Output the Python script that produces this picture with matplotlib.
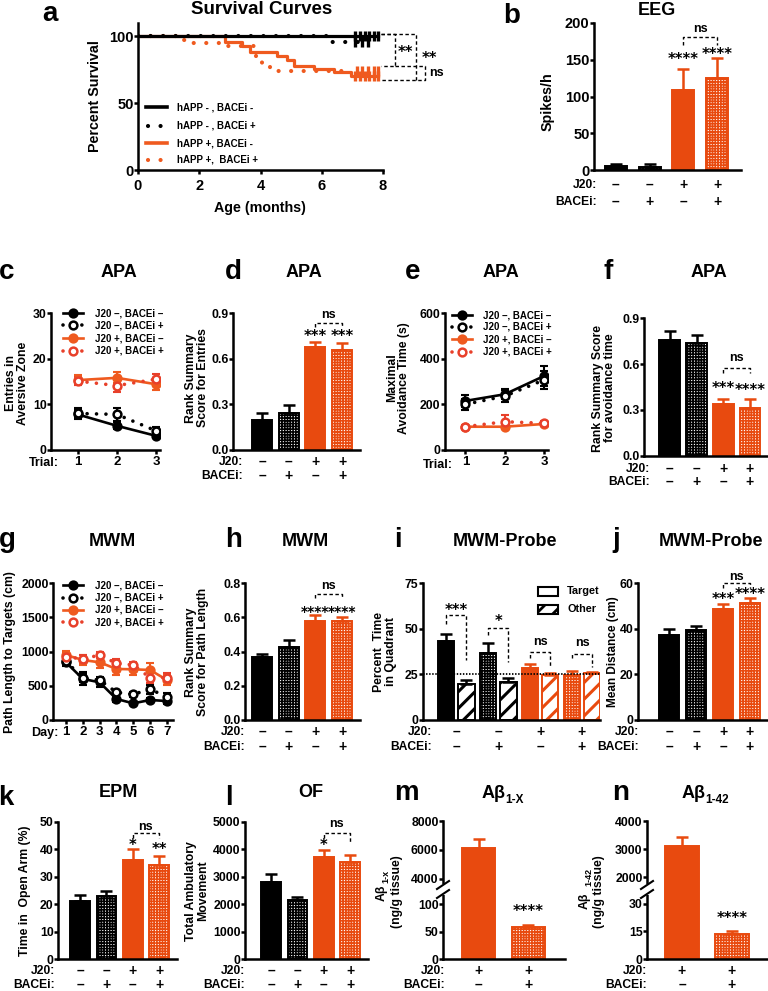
import numpy as np
import matplotlib
matplotlib.use('Agg')
import matplotlib.pyplot as plt
from matplotlib.patches import Rectangle
from matplotlib.lines import Line2D

plt.rcParams['font.family'] = ['Liberation Sans', 'DejaVu Sans']
plt.rcParams['font.weight'] = 'bold'
plt.rcParams['axes.labelweight'] = 'bold'
plt.rcParams['hatch.linewidth'] = 1.1

# ---------------- DATA ----------------
J20_4 = ['–', '–', '+', '+']
BACE_4 = ['–', '+', '–', '+']
J20_2 = ['+', '+']
BACE_2 = ['–', '+']

# a: Kaplan-Meier survival (step change points, last point = end of follow-up)
km_ctrl_t = [0, 7.85]
km_ctrl_s = [100, 100]
km_ctrlB_t = [0, 6.25, 7.55]
km_ctrlB_s = [100, 95.5, 95.5]
km_j20_t = [0, 2.85, 3.4, 3.65, 4.55, 4.85, 5.1, 5.75, 6.4, 6.95, 7.85]
km_j20_s = [100, 96, 93, 88, 85, 82, 78, 75.5, 73, 70, 70]
km_j20B_t = [0, 1.4, 1.65, 2.7, 3.85, 4.05, 4.3, 4.55, 7.0]
km_j20B_s = [100, 97.5, 95, 92.5, 83, 78.5, 76, 74, 74]
cens_ctrl = [7.1, 7.25, 7.4, 7.55, 7.7, 7.85]
cens_ctrlB = [7.1, 7.3, 7.5]
cens_j20 = [7.1, 7.25, 7.4, 7.55, 7.7, 7.85]
cens_j20B = [7.15, 7.3, 7.5, 7.7, 7.85]
km_labels = ['hAPP - , BACEi -', 'hAPP - , BACEi +', 'hAPP +, BACEi -', 'hAPP +,  BACEi +']

# b: EEG
eeg_vals = [5, 4.5, 109, 125]
eeg_err = [3, 3, 28, 27]

# c, e: APA line data (trials)
trials = [1, 2, 3]
c_nv = [7.8, 5.3, 3.1];   c_nv_e = [1.0, 0.8, 0.5]
c_nb = [8.0, 7.8, 4.2];   c_nb_e = [1.1, 1.5, 0.8]
c_pv = [15.3, 15.8, 14.4]; c_pv_e = [1.1, 1.2, 1.3]
c_pb = [15.1, 14.1, 15.5]; c_pb_e = [0.9, 1.5, 1.2]
e_nv = [215, 244, 324];   e_nv_e = [28, 22, 42]
e_nb = [200, 236, 307];   e_nb_e = [25, 25, 40]
e_pv = [102, 102, 114];   e_pv_e = [6, 8, 10]
e_pb = [102, 124, 117];   e_pb_e = [6, 28, 10]
line_labels = ['J20 –, BACEi –', 'J20 –, BACEi +', 'J20 +, BACEi –', 'J20 +, BACEi +']

# d, f: APA rank summary
d_vals = [0.195, 0.24, 0.675, 0.655]; d_err = [0.05, 0.055, 0.035, 0.045]
f_vals = [0.758, 0.737, 0.338, 0.316]; f_err = [0.055, 0.052, 0.032, 0.054]

# g: MWM path length (days)
days = [1, 2, 3, 4, 5, 6, 7]
g_nv = [842, 600, 550, 307, 243, 292, 277]; g_nv_e = [60, 95, 70, 40, 20, 30, 50]
g_nb = [861, 608, 584, 404, 375, 448, 340]; g_nb_e = [50, 60, 50, 40, 40, 70, 50]
g_pv = [949, 876, 842, 745, 740, 730, 584]; g_pv_e = [60, 70, 90, 90, 80, 100, 80]
g_pb = [925, 890, 949, 827, 803, 618, 618]; g_pb_e = [50, 60, 50, 60, 50, 80, 70]

# h: MWM rank summary
h_vals = [0.367, 0.427, 0.577, 0.577]; h_err = [0.02, 0.04, 0.035, 0.025]
# i: probe, target vs other quadrant
i_target = [43.1, 36.8, 28.2, 24.6]; i_target_e = [4.2, 5.1, 2.2, 2.2]
i_other = [19.5, 20.9, 24.9, 25.5];  i_other_e = [2.3, 2.2, 0.6, 0.9]
i_chance = 25
# j: mean distance
j_vals = [37.4, 39.6, 48.6, 51.3]; j_err = [2.4, 1.6, 2.2, 2.2]
# k: EPM
k_vals = [21.1, 23.1, 36.0, 34.2]; k_err = [2.2, 1.9, 4.3, 3.3]
# l: OF
l_vals = [2815, 2148, 3725, 3544]; l_err = [280, 122, 243, 242]
# m, n: Abeta
m_vals = [6160, 59]; m_err = [575, 3]
n_vals = [3114, 13.6]; n_err = [323, 1.4]

# ---------------- STYLE ----------------
W, H = 768, 991
fig = plt.figure(figsize=(W / 100, H / 100), dpi=100)
ov = fig.add_axes([0, 0, 1, 1], zorder=10)
ov.set_xlim(0, W); ov.set_ylim(H, 0); ov.axis('off'); ov.set_autoscale_on(False)

BLK = '#000000'
ORG = '#E84A0F'
ORGL = '#EF5A1F'
RED = '#E8402A'
LW = 1.8


def mkax(l, t, r, b, tfs=8.8):
    ax = fig.add_axes([l / W, 1 - b / H, (r - l) / W, (b - t) / H])
    ax.patch.set_alpha(0)
    for s in ('top', 'right'):
        ax.spines[s].set_visible(False)
    for s in ('left', 'bottom'):
        ax.spines[s].set_linewidth(LW)
    ax.tick_params(width=LW, length=2.6, labelsize=tfs, pad=0.6)
    return ax


def T(x, y, s, fs, ha='center', va='baseline', **kw):
    ov.text(x, y, s, fontsize=fs, ha=ha, va=va, fontweight='bold', **kw)


def hl(patch, w):
    if hasattr(patch, 'set_hatch_linewidth'):
        patch.set_hatch_linewidth(w)


def draw_bar(ax, x, v, e, kind, width):
    col = BLK if kind[1] == 'k' else ORG
    if kind[0] == 's':
        p = ax.bar(x, v, width, color=col, edgecolor=col, lw=1.4, zorder=2)
    elif kind[0] == 'c':
        p = ax.bar(x, v, width, facecolor='white', edgecolor=col, hatch='++++++', lw=1.4, zorder=2)
        for r in p:
            hl(r, 1.15)
    else:
        p = ax.bar(x, v, width, facecolor='white', edgecolor=col, hatch='//', lw=1.4, zorder=2)
        for r in p:
            hl(r, 2.2)
    ax.errorbar([x], [v], yerr=[[0], [e]], fmt='none', ecolor=col, elinewidth=LW,
                capsize=4, capthick=LW, zorder=3)


KINDS4 = ['sk', 'ck', 'so', 'co']


def rows(ax, b, xs, j20, bace, d1, d2, xr, fs=8.7, sfs=10):
    for x, a, c in zip(xs, j20, bace):
        ax.annotate(a, xy=(x, 0), xycoords=('data', 'axes fraction'), xytext=(0, -d1 * 0.72),
                    textcoords='offset points', ha='center', va='center', fontsize=sfs,
                    fontweight='bold', annotation_clip=False)
        ax.annotate(c, xy=(x, 0), xycoords=('data', 'axes fraction'), xytext=(0, -d2 * 0.72),
                    textcoords='offset points', ha='center', va='center', fontsize=sfs,
                    fontweight='bold', annotation_clip=False)
    T(xr, b + d1, 'J20:', fs, ha='right', va='center')
    T(xr, b + d2, 'BACEi:', fs, ha='right', va='center')


def stars(ax, x, y, s, fs=10.5):
    ax.annotate(s, xy=(x, y), xytext=(0, -0.53 * fs), textcoords='offset points', ha='center',
                va='baseline', fontsize=fs, fontfamily='DejaVu Sans', fontweight='bold',
                annotation_clip=False)


def nstext(ax, x, y, s='ns', fs=9):
    ax.annotate(s, xy=(x, y), xytext=(0, -0.26 * fs), textcoords='offset points', ha='center',
                va='baseline', fontsize=fs, fontweight='bold', annotation_clip=False)


def brk(ax, x1, x2, ytop, yl, yr, lw=1.0):
    ax.plot([x1, x1, x2, x2], [yl, ytop, ytop, yr], color='k', lw=lw, ls=(0, (2.5, 1.8)),
            clip_on=False, zorder=5)


def lineplot(ax, x, y, e, col, filled, dotted):
    ax.errorbar(x, y, yerr=e, color=col, ls='none', elinewidth=1.5, capsize=3, capthick=1.5, zorder=3)
    if dotted:
        ax.plot(x, y, color=col, lw=2.6, ls=(0, (0.01, 2.6)), dash_capstyle='round', zorder=2)
    else:
        ax.plot(x, y, color=col, lw=1.9, zorder=2)
    ax.plot(x, y, ls='none', marker='o', ms=5.6, mfc=col if filled else 'white', mec=col, mew=1.8, zorder=4)


def line_legend(x0, x1, xt, ys, fs=7):
    specs = [(BLK, True, False), (BLK, False, True), (ORGL, True, False), (RED, False, True)]
    for y, (col, filled, dotted), lab in zip(ys, specs, line_labels):
        if dotted:
            ov.add_line(Line2D([x0, x1], [y, y], color=col, lw=2.6, ls=(0, (0.01, 2.6)),
                               dash_capstyle='round'))
        else:
            ov.add_line(Line2D([x0, x1], [y, y], color=col, lw=1.9))
        ov.plot([(x0 + x1) / 2], [y], marker='o', ms=5.6, mfc=col if filled else 'white', mec=col, mew=1.8)
        T(xt, y, lab, fs, ha='left', va='center')


def ylab(x, y, s, fs=8.8):
    T(x, y, s, fs, ha='center', va='center', rotation=90, multialignment='center', linespacing=1.05)


# ---------------- PANEL a ----------------
axa = mkax(138, 23, 383, 170, tfs=10.5)
DOT = (0, (0.01, 3.0))
axa.step(km_j20B_t, km_j20B_s, where='post', color=ORGL, lw=3.0, ls=DOT, dash_capstyle='round')
axa.step(km_j20_t, km_j20_s, where='post', color=ORGL, lw=2.3)
axa.step(km_ctrlB_t, km_ctrlB_s, where='post', color=BLK, lw=3.0, ls=DOT, dash_capstyle='round')
axa.step(km_ctrl_t, km_ctrl_s, where='post', color=BLK, lw=2.3)


def level_at(t, s, x):
    idx = np.searchsorted(np.array(t), np.array(x), side='right') - 1
    return np.array(s)[idx]


for ct, tt, ss, col in [(cens_ctrl, km_ctrl_t, km_ctrl_s, BLK), (cens_ctrlB, km_ctrlB_t, km_ctrlB_s, BLK),
                        (cens_j20, km_j20_t, km_j20_s, ORGL), (cens_j20B, km_j20B_t, km_j20B_s, ORGL)]:
    axa.plot(ct, level_at(tt, ss, ct), ls='none', marker='|', ms=7, mew=2.4, color=col, clip_on=False)
axa.set_xlim(0, 8); axa.set_ylim(0, 110)
axa.set_xticks([0, 2, 4, 6, 8]); axa.set_yticks([0, 50, 100])
axa.tick_params(axis='x', pad=4)
brk(axa, 7.95, 9.09, 101.5, 101.5, 67.7)
axa.plot([7.95, 8.38, 8.38, 7.95], [101.5, 101.5, 77.6, 77.6], color='k', lw=1.0, ls=(0, (2.5, 1.8)), clip_on=False)
axa.plot([8.38, 9.36, 9.36, 7.95], [77.6, 77.6, 67.7, 67.7], color='k', lw=1.0, ls=(0, (2.5, 1.8)), clip_on=False)
stars(axa, 8.72, 90, '**', 10.5)
stars(axa, 9.5, 86, '**', 10.5)
nstext(axa, 9.75, 72.7, 'ns', 9)
T(262, 14, 'Survival Curves', 13.5)
T(50, 21, 'a', 20)
ylab(95, 96, 'Percent Survival', 10.3)
T(260, 208, 'Age (months)', 10.3, va='center')
# legend a
for y, col, dotted, lab in zip([107, 126, 143, 160], [BLK, BLK, ORGL, ORGL], [False, True, False, True], km_labels):
    if dotted:
        ov.add_line(Line2D([148, 166], [y, y], color=col, lw=3.0, ls=(0, (0.01, 3.0)), dash_capstyle='round'))
    else:
        ov.add_line(Line2D([146, 167], [y, y], color=col, lw=2.6))
    T(177, y, lab, 7, ha='left', va='center')

# ---------------- PANEL b ----------------
axb = mkax(594, 23, 741, 170, tfs=10.5)
xs4 = np.arange(4)
for x, v, e, k in zip(xs4, eeg_vals, eeg_err, KINDS4):
    draw_bar(axb, x, v, e, k, 0.65)
axb.set_xlim(-0.65, 3.71); axb.set_ylim(0, 200)
axb.set_xticks([]); axb.set_yticks([0, 50, 100, 150, 200])
stars(axb, 2, 155, '****'); stars(axb, 3, 162, '****')
brk(axb, 2, 3, 181, 170.5, 170.5); nstext(axb, 2.5, 192)
rows(axb, 170, xs4, J20_4, BACE_4, 15, 32, 597)
T(657, 15, 'EEG', 13)
T(512, 23, 'b', 20)
ylab(548, 102, 'Spikes/h', 10.3)

# ---------------- PANEL c ----------------
axc = mkax(51, 313, 160, 450)
lineplot(axc, trials, c_nv, c_nv_e, BLK, True, False)
lineplot(axc, trials, c_nb, c_nb_e, BLK, False, True)
lineplot(axc, trials, c_pv, c_pv_e, ORGL, True, False)
lineplot(axc, trials, c_pb, c_pb_e, RED, False, True)
axc.set_xlim(0.32, 3.1); axc.set_ylim(0, 30)
axc.set_xticks(trials); axc.set_yticks([0, 10, 20, 30])
axc.tick_params(axis='x', labelsize=9.5, pad=2)
T(59, 463, 'Trial:', 9, ha='right', va='center')
line_legend(63, 83, 95, [313.3, 325, 338.3, 350.7])
T(119, 277, 'APA', 13)
T(7, 279, 'c', 20)
ylab(17, 383, 'Entries in\nAversive Zone')

# ---------------- PANEL d ----------------
axd = mkax(233, 313, 360, 450)
for x, v, e, k in zip(xs4, d_vals, d_err, KINDS4):
    draw_bar(axd, x, v, e, k, 0.75)
axd.set_xlim(-1.09, 3.67); axd.set_ylim(0, 0.9)
axd.set_xticks([]); axd.set_yticks([0, 0.3, 0.6, 0.9])
axd.set_yticklabels(['0.0', '0.3', '0.6', '0.9'])
stars(axd, 2, 0.769, '***'); stars(axd, 3, 0.769, '***')
brk(axd, 2, 3, 0.834, 0.81, 0.81); nstext(axd, 2.5, 0.889)
rows(axd, 450, xs4, J20_4, BACE_4, 12, 26, 243)
T(304, 277, 'APA', 13)
T(233, 279, 'd', 20)
ylab(197, 378, 'Rank Summary\nScore for Entries')

# ---------------- PANEL e ----------------
axe = mkax(445, 313, 548, 450)
lineplot(axe, trials, e_nv, e_nv_e, BLK, True, False)
lineplot(axe, trials, e_nb, e_nb_e, BLK, False, True)
lineplot(axe, trials, e_pv, e_pv_e, ORGL, True, False)
lineplot(axe, trials, e_pb, e_pb_e, RED, False, True)
axe.set_xlim(0.48, 3.1); axe.set_ylim(0, 600)
axe.set_xticks(trials); axe.set_yticks([0, 200, 400, 600])
axe.tick_params(axis='x', labelsize=9.5, pad=2)
T(453, 465, 'Trial:', 9, ha='right', va='center')
line_legend(452, 472, 483, [315, 326.7, 339.3, 351.7])
T(501, 277, 'APA', 13)
T(413, 279, 'e', 20)
ylab(398, 378, 'Maximal\nAvoidance Time (s)')

# ---------------- PANEL f ----------------
axf = mkax(644, 318, 767, 456)
for x, v, e, k in zip(xs4, f_vals, f_err, KINDS4):
    draw_bar(axf, x, v, e, k, 0.78)
axf.set_xlim(-0.97, 3.64); axf.set_ylim(0, 0.9)
axf.set_xticks([]); axf.set_yticks([0, 0.3, 0.6, 0.9])
axf.set_yticklabels(['0.0', '0.3', '0.6', '0.9'])
stars(axf, 2, 0.464, '***'); stars(axf, 3, 0.449, '****')
brk(axf, 2, 3, 0.577, 0.54, 0.54); nstext(axf, 2.5, 0.643)
rows(axf, 456, xs4, J20_4, BACE_4, 12.5, 26, 650)
T(709, 277, 'APA', 13)
T(608, 279, 'f', 20)
ylab(604, 388, 'Rank Summary Score\nfor avoidance time')

# ---------------- PANEL g ----------------
axg = mkax(53, 583, 173, 720)
lineplot(axg, days, g_nv, g_nv_e, BLK, True, False)
lineplot(axg, days, g_nb, g_nb_e, BLK, False, True)
lineplot(axg, days, g_pv, g_pv_e, ORGL, True, False)
lineplot(axg, days, g_pb, g_pb_e, RED, False, True)
axg.set_xlim(0.23, 7.36); axg.set_ylim(0, 2000)
axg.set_xticks(days); axg.set_yticks([0, 500, 1000, 1500, 2000])
axg.tick_params(axis='x', labelsize=9.5, pad=1.5)
T(58, 733, 'Day:', 9, ha='right', va='center')
line_legend(63, 83, 95, [585, 597.7, 610, 622.3])
T(112, 546, 'MWM', 13)
T(7, 547, 'g', 20)
ylab(10, 652, 'Path Length to Targets (cm)')

# ---------------- PANEL h ----------------
axh = mkax(245, 583, 360, 720)
for x, v, e, k in zip(xs4, h_vals, h_err, KINDS4):
    draw_bar(axh, x, v, e, k, 0.75)
axh.set_xlim(-0.64, 3.67); axh.set_ylim(0, 0.8)
axh.set_xticks([]); axh.set_yticks([0, 0.2, 0.4, 0.6, 0.8])
axh.set_yticklabels(['0.0', '0.2', '0.4', '0.6', '0.8'])
stars(axh, 2, 0.65, '****', 10); stars(axh, 3, 0.65, '****', 10)
brk(axh, 2, 3, 0.738, 0.715, 0.715); nstext(axh, 2.5, 0.786)
rows(axh, 720, xs4, J20_4, BACE_4, 12, 27, 245)
T(305, 546, 'MWM', 13)
T(234, 547, 'h', 20)
ylab(197, 652, 'Rank Summary\nScore for Path Length')

# ---------------- PANEL i ----------------
axi = mkax(423, 583, 600, 720)
t_kinds = ['sk', 'ck', 'so', 'co']
o_kinds = ['tk', 'tk', 'to', 'to']
for p in range(4):
    draw_bar(axi, p - 0.24, i_target[p], i_target_e[p], t_kinds[p], 0.4)
    draw_bar(axi, p + 0.24, i_other[p], i_other_e[p], o_kinds[p], 0.4)
axi.axhline(i_chance, color='k', lw=1.3, ls=(0, (0.8, 0.9)), zorder=4)
axi.set_xlim(-0.79, 3.43); axi.set_ylim(0, 75)
axi.set_xticks([]); axi.set_yticks([0, 25, 50, 75])
brk(axi, -0.24, 0.24, 57.3, 52.8, 32.8); stars(axi, 0, 61.9, '***')
brk(axi, 0.76, 1.24, 50.4, 46.4, 31.9); stars(axi, 1, 55.5, '*')
brk(axi, 1.76, 2.24, 37.3, 33.7, 29.1); nstext(axi, 2, 42.8)
brk(axi, 2.76, 3.24, 36.4, 33.7, 29.1); nstext(axi, 3, 42.2)
rows(axi, 720, np.arange(4), J20_4, BACE_4, 12, 27, 432)
r1 = Rectangle((538, 587), 20, 9, fc='white', ec='k', lw=1.5); ov.add_patch(r1)
r2 = Rectangle((538, 605), 20, 9, fc='white', ec='k', lw=1.5, hatch='//'); ov.add_patch(r2)
hl(r2, 2.0)
T(567, 591.5, 'Target', 7.8, ha='left', va='center')
T(567, 609.5, 'Other', 7.8, ha='left', va='center')
T(505, 546, 'MWM-Probe', 13)
T(398, 547, 'i', 20)
ylab(385, 652, 'Percent  Time\nin Quadrant')

# ---------------- PANEL j ----------------
axj = mkax(638, 583, 767, 720)
for x, v, e, k in zip(xs4, j_vals, j_err, KINDS4):
    draw_bar(axj, x, v, e, k, 0.75)
axj.set_xlim(-1.15, 3.63); axj.set_ylim(0, 60)
axj.set_xticks([]); axj.set_yticks([0, 20, 40, 60])
stars(axj, 2, 54.2, '***'); stars(axj, 3, 56.4, '****')
brk(axj, 2, 3, 60.0, 58.0, 58.0); nstext(axj, 2.5, 62.9)
rows(axj, 720, xs4, J20_4, BACE_4, 12, 27, 639)
T(711, 546, 'MWM-Probe', 13)
T(616, 547, 'j', 20)
ylab(613, 652, 'Mean Distance (cm)', 8.5)

# ---------------- PANEL k ----------------
axk = mkax(58, 822, 177, 959)
for x, v, e, k in zip(xs4, k_vals, k_err, KINDS4):
    draw_bar(axk, x, v, e, k, 0.75)
axk.set_xlim(-0.84, 3.68); axk.set_ylim(0, 50)
axk.set_xticks([]); axk.set_yticks([0, 10, 20, 30, 40, 50])
stars(axk, 2, 42.7, '*'); stars(axk, 3, 41.1, '**')
brk(axk, 2, 3, 46.0, 44.3, 44.3); nstext(axk, 2.5, 48.4)
rows(axk, 959, xs4, J20_4, BACE_4, 12, 26, 55)
T(118, 797, 'EPM', 13)
T(6, 805, 'k', 20)
ylab(25, 891, 'Time in  Open Arm (%)')

# ---------------- PANEL l ----------------
axl = mkax(245, 822, 368, 959)
for x, v, e, k in zip(xs4, l_vals, l_err, KINDS4):
    draw_bar(axl, x, v, e, k, 0.75)
axl.set_xlim(-0.99, 3.68); axl.set_ylim(0, 5000)
axl.set_xticks([]); axl.set_yticks([0, 1000, 2000, 3000, 4000, 5000])
stars(axl, 2, 4272, '*')
brk(axl, 2, 3, 4600, 4430, 4235); nstext(axl, 2.5, 4940)
rows(axl, 959, xs4, J20_4, BACE_4, 12, 26, 245)
T(311, 797, 'OF', 13)
T(229, 805, 'l', 20)
ylab(197, 891, 'Total Ambulatory\nMovement')


# ---------------- PANELS m, n (broken axes) ----------------
def broken(l, r, vals, errs, up_lim, lo_lim, up_ticks, lo_ticks, xlim, st_y, width):
    axu = mkax(l, 821, r, 890)
    axu.spines['bottom'].set_visible(False)
    axlo = mkax(l, 890, r, 959)
    for ax in (axu, axlo):
        draw_bar(ax, 0, vals[0], errs[0], 'so', width)
        draw_bar(ax, 1, vals[1], errs[1], 'co', width)
        ax.set_xlim(*xlim); ax.set_xticks([])
    axu.set_ylim(*up_lim); axu.set_yticks(up_ticks)
    axlo.set_ylim(*lo_lim); axlo.set_yticks(lo_ticks)
    stars(axlo, 1, st_y, '****')
    ov.add_patch(Rectangle((l - 4, 884), 8, 11, fc='white', ec='none', zorder=5))
    ov.plot([l - 6, l + 6], [889, 881], color='k', lw=1.5, zorder=6)
    ov.plot([l - 6, l + 6], [898, 890], color='k', lw=1.5, zorder=6)
    return axu, axlo


axmu, axml = broken(443, 565, m_vals, m_err, (3241, 8000), (0, 125.5), [4000, 6000, 8000], [0, 50, 100],
                    (-0.73, 1.75), 92, 0.67)
rows(axml, 959, [0, 1], J20_2, BACE_2, 12, 26, 445)
T(494, 798, 'Aβ', 13)
T(505, 803, '1-X', 8.5, ha='left')
T(406, 800, 'm', 20)
T(382, 893, 'Aβ', 8.8, ha='center', va='center', rotation=90)
T(385.5, 876, '1-x', 6.5, ha='center', va='center', rotation=90)
ylab(397, 892, '(ng/g tissue)')

axnu, axnl = broken(647, 768, n_vals, n_err, (1536, 4000), (0, 37.6), [2000, 3000, 4000], [0, 15, 30],
                    (-0.7, 1.72), 24, 0.67)
rows(axnl, 959, [0, 1], J20_2, BACE_2, 12, 26, 647)
T(694, 798, 'Aβ', 13)
T(705, 803, '1-42', 8.5, ha='left')
T(621, 800, 'n', 20)
T(585, 901, 'Aβ', 8.8, ha='center', va='center', rotation=90)
T(588.5, 877, '1-42', 6.5, ha='center', va='center', rotation=90)
ylab(599, 892, '(ng/g tissue)')

fig.savefig('out.png', dpi=100)
